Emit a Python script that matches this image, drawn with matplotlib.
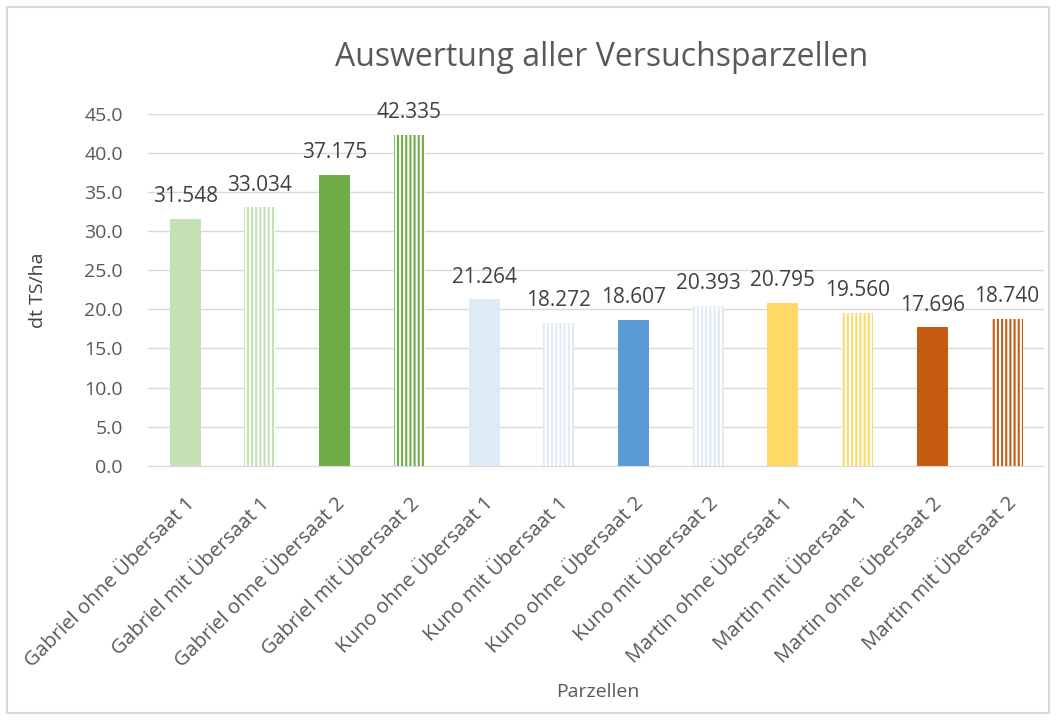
import matplotlib.pyplot as plt
from matplotlib.patches import Rectangle

categories = ["Gabriel ohne Übersaat 1", "Gabriel mit Übersaat 1", "Gabriel ohne Übersaat 2",
              "Gabriel mit Übersaat 2", "Kuno ohne Übersaat 1", "Kuno mit Übersaat 1",
              "Kuno ohne Übersaat 2", "Kuno mit Übersaat 2", "Martin ohne Übersaat 1",
              "Martin mit Übersaat 1", "Martin ohne Übersaat 2", "Martin mit Übersaat 2"]
values = [31.548, 33.034, 37.175, 42.335, 21.264, 18.272, 18.607, 20.393, 20.795, 19.560, 17.696, 18.740]
colors = ["#C5E0B4", "#C5E0B4", "#70AD47", "#70AD47", "#DEEBF7", "#DEEBF7",
          "#5B9BD5", "#DEEBF7", "#FFD966", "#FFD966", "#C55A11", "#C55A11"]
striped = [False, True, False, True, False, True, False, True, False, True, False, True]

plt.rcParams['font.family'] = ['Open Sans', 'DejaVu Sans']
plt.rcParams['hatch.linewidth'] = 1.5

fig = plt.figure(figsize=(10.56, 7.2), dpi=100)
ax = fig.add_axes([0.140, 0.353, 0.849, 0.489])

fig.patches.append(Rectangle((0.007, 0.01), 0.986, 0.98, transform=fig.transFigure,
                             fill=False, edgecolor="#D9D9D9", linewidth=1.5))

x = range(len(categories))
for i, (v, c, s) in enumerate(zip(values, colors, striped)):
    if s:
        ax.bar(i, v, width=0.415, facecolor="white", edgecolor=c, hatch="||||", linewidth=0, zorder=2)
    else:
        ax.bar(i, v, width=0.415, color=c, linewidth=0, zorder=2)
    ax.text(i, v + 2.15, f"{v:.3f}", ha="center", va="baseline", fontsize=15, color="#404040")

ax.set_ylim(0, 45)
ax.set_xlim(-0.5, len(categories) - 0.5)
ax.set_yticks(range(0, 46, 5))
ax.set_yticklabels([f"{t:.1f}" for t in range(0, 46, 5)], fontsize=14, color="#595959")
ax.set_xticks(list(x))
ax.set_xticklabels(categories, rotation=45, ha="right", rotation_mode="anchor",
                   fontsize=14.7, color="#595959")
ax.tick_params(axis="y", length=0, pad=18)
ax.tick_params(axis="x", length=0, pad=20)
ax.grid(axis="y", color="#D9D9D9", linewidth=1, zorder=0)
ax.set_axisbelow(True)
for sp in ["top", "right", "left"]:
    ax.spines[sp].set_visible(False)
ax.spines["bottom"].set_color("#D9D9D9")

fig.text(0.036, 0.597, "dt TS/ha", rotation=90, ha="center", va="center", fontsize=14, color="#404040")
fig.text(0.566, 0.032, "Parzellen", ha="center", fontsize=14, color="#595959")
fig.text(0.570, 0.908, "Auswertung aller Versuchsparzellen", ha="center", va="baseline",
         fontsize=23, color="#595959")

fig.savefig("out.png", dpi=100)
